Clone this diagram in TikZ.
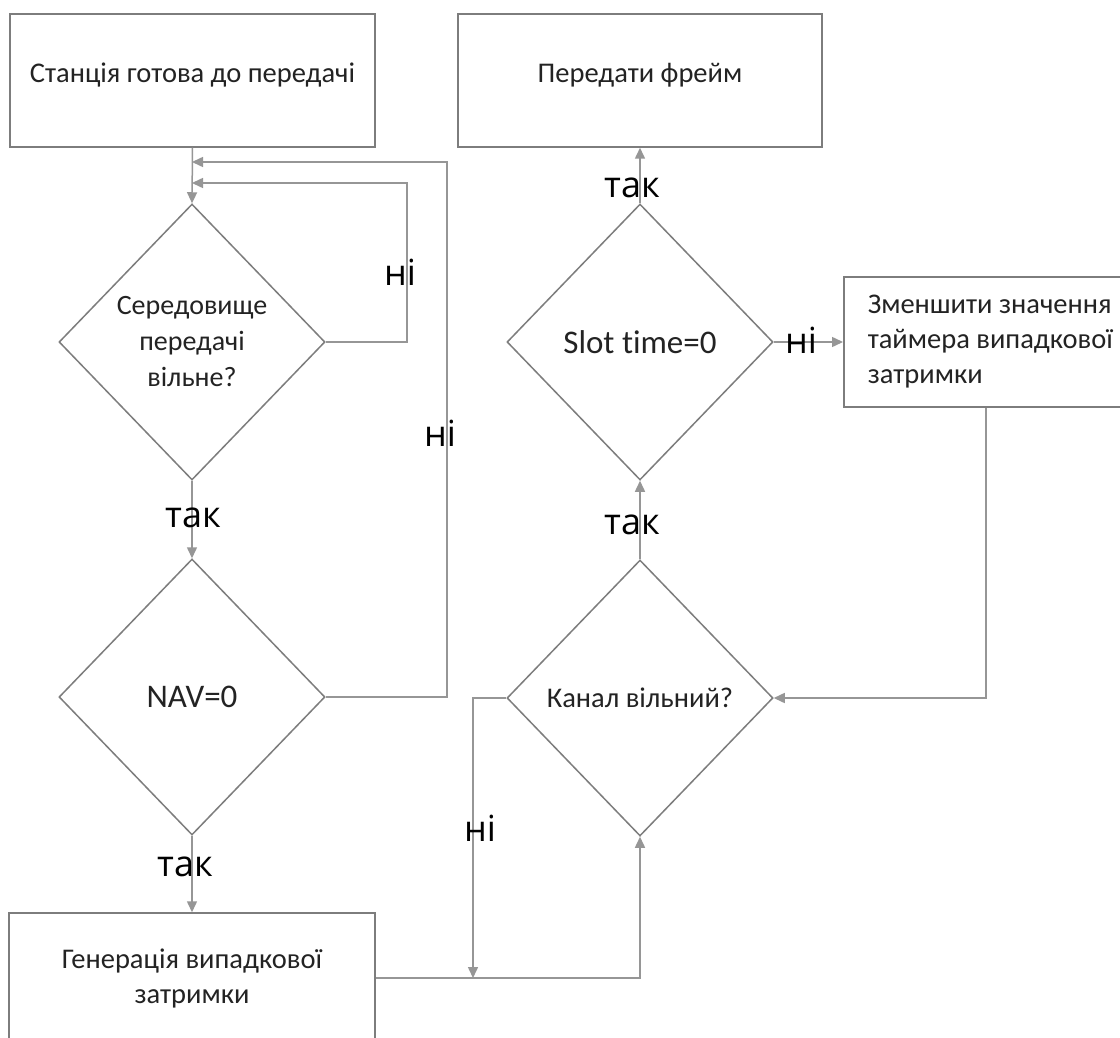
\documentclass[tikz,border=0pt]{standalone}
\usepackage{fontspec}
\setmainfont{Carlito}[Ligatures={NoCommon}]
\newfontfamily\labfont{Open Sans}
\usetikzlibrary{shapes.geometric,arrows.meta}
\definecolor{shapeline}{RGB}{125,125,125}
\definecolor{conline}{RGB}{150,150,150}
\definecolor{txt}{RGB}{35,35,35}
\begin{document}
\begin{tikzpicture}[x=1pt,y=-1pt,
  box/.style={draw=shapeline,line width=1.5pt,rectangle,inner sep=0pt,
    font=\fontsize{28.5}{35}\selectfont,text=txt,align=center},
  dia/.style={draw=shapeline,line width=1.5pt,diamond,inner sep=0pt,
    minimum width=266pt,minimum height=276pt,align=center,text=txt},
  con/.style={draw=conline,line width=1.5pt,-{Triangle[length=11pt,width=10pt]}},
  lab/.style={font=\labfont\fontsize{36}{40}\selectfont,inner sep=0pt,text=black}]
\useasboundingbox (0,0) rectangle (1120,1038);
\fill[white] (0,0) rectangle (1120,1038);
\clip (0,0) rectangle (1120,1038);

% boxes
\node[box,minimum width=365pt,minimum height=133pt,text depth=15pt] (b1) at (192.5,80.5) {Станція готова до передачі};
\node[box,minimum width=364pt,minimum height=133pt,text depth=15pt] (b2) at (640,80.5) {Передати фрейм};
\node[box,anchor=west,align=flush left,inner xsep=24pt,text width=280pt,minimum height=130pt] (b3) at (843,342)
  {Зменшити значення\\таймера випадкової\\затримки};
\node[box,minimum width=366pt,minimum height=130pt] (b4) at (192,978) {Генерація випадкової\\затримки};

% diamonds
\node[dia,font=\fontsize{28}{36}\selectfont] (d1) at (192,342) {Середовище\\передачі\\вільне?};
\node[dia,font=\fontsize{33}{36}\selectfont] (d2) at (192,697) {NAV=0};
\node[dia,font=\fontsize{33}{36}\selectfont] (d3) at (640,342) {Slot time=0};
\node[dia,font=\fontsize{28.5}{36}\selectfont] (d4) at (640,698) {Канал вільний?};

% helper coordinates
\coordinate (j1) at (192,183);
\coordinate (j2) at (192,162);
\coordinate (r1) at (407,0);
\coordinate (r2) at (447,0);
\coordinate (r3) at (473,0);
\coordinate (r4) at (986,0);

% connectors
\draw[con] (b1.south) -- (d1.north);
\draw[con] (d1.east) -- (r1 |- d1.east) -- (r1 |- j1) -- (j1);
\draw[con] (d2.east) -- (r2 |- d2.east) -- (r2 |- j2) -- (j2);
\draw[con] (d1.south) -- (d2.north);
\draw[con] (d2.south) -- (b4.north);
\draw[con] (b4.east) -- (d4.south |- b4.east) -- (d4.south);
\draw[con] (d4.west) -- (r3 |- d4.west) -- (r3 |- b4.east);
\draw[con] (d4.north) -- (d3.south);
\draw[con] (d3.north) -- (b2.south);
\draw[con] (d3.east) -- (b3.west);
\draw[con] (r4 |- b3.south) -- (r4 |- d4.east) -- (d4.east);

% labels
\node[lab] (l1) at (400,272) {ні};
\node[lab] (l2) at (440,433) {ні};
\node[lab] (l3) at (801,340) {ні};
\node[lab] (l4) at (480,828) {ні};
\node[lab] (t1) at (193,518) {так};
\node[lab] (t2) at (185,867) {так};
\node[lab] (t3) at (632,525) {так};
\node[lab] (t4) at (632,188) {так};
\end{tikzpicture}
\end{document}
